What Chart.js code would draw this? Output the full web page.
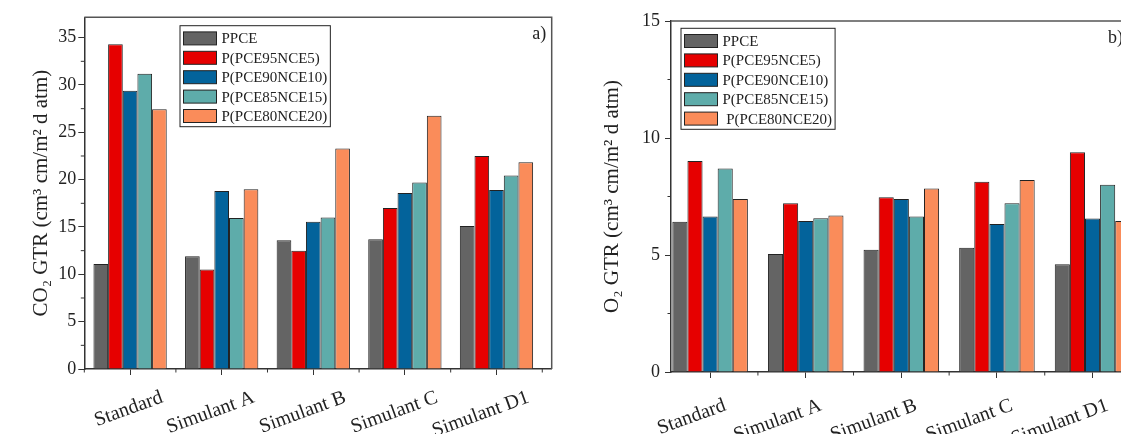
<!DOCTYPE html>
<html>
<head>
<meta charset="utf-8">
<script src="https://cdn.jsdelivr.net/npm/chart.js@4.4.1/dist/chart.umd.min.js"></script>
<style>
html, body { margin: 0; padding: 0; width: 1121px; height: 434px; overflow: hidden; background: #fff; }
#wrapA { position: absolute; left: 0; top: 0; width: 560px; height: 434px; }
#wrapB { position: absolute; left: 560px; top: 0; width: 600px; height: 434px; }
</style>
</head>
<body>
<div id="wrapA"><canvas id="co2Chart" width="560" height="434"></canvas></div>
<div id="wrapB"><canvas id="o2Chart" width="600" height="434"></canvas></div>
<script>
//categories
let categories = ["Standard", "Simulant A", "Simulant B", "Simulant C", "Simulant D1"]
let seriesNamesA = ["PPCE", "P(PCE95NCE5)", "P(PCE90NCE10)", "P(PCE85NCE15)", "P(PCE80NCE20)"]
let seriesNamesB = ["PPCE", "P(PCE95NCE5)", "P(PCE90NCE10)", "P(PCE85NCE15)", " P(PCE80NCE20)"]
let colors = ["#646464", "#e60000", "#03639b", "#5eacaa", "#fa8c5a"]

//a) CO2 GTR, one array per sample
let co2PPCE = [11.1, 11.9, 13.6, 13.7, 15.1]
let co2PCE95 = [34.3, 10.5, 12.5, 17.0, 22.5]
let co2PCE90 = [29.4, 18.8, 15.55, 18.6, 18.9]
let co2PCE85 = [31.2, 15.95, 16.0, 19.7, 20.45]
let co2PCE80 = [27.45, 19.0, 23.3, 26.75, 21.85]
let co2Ticks = [0, 5, 10, 15, 20, 25, 30, 35]

//b) O2 GTR
let o2PPCE = [6.42, 5.04, 5.22, 5.31, 4.6]
let o2PCE95 = [9.02, 7.21, 7.47, 8.13, 9.39]
let o2PCE90 = [6.65, 6.45, 7.39, 6.33, 6.56]
let o2PCE85 = [8.7, 6.57, 6.65, 7.21, 8.0]
let o2PCE80 = [7.39, 6.69, 7.84, 8.2, 6.45]
let o2Ticks = [0, 5, 10, 15]

const serif = "'Liberation Serif', 'Times New Roman', 'DejaVu Serif', serif"
const ink = "#222"

// frame, minor ticks, slanted x labels, panel letter and boxed legend (Origin look)
const originLook = {
    id: "originLook",
    afterDraw(chart, args, o) {
        const ctx = chart.ctx
        const area = chart.chartArea
        const xs = chart.scales.x
        const ys = chart.scales.y
        ctx.save()

        // top and right frame
        ctx.strokeStyle = "#555"
        ctx.lineWidth = 1.5
        ctx.beginPath()
        ctx.moveTo(area.left, area.top)
        ctx.lineTo(area.right, area.top)
        ctx.lineTo(area.right, area.bottom)
        ctx.stroke()

        // minor ticks
        ctx.strokeStyle = "#333"
        ctx.lineWidth = 1
        ctx.beginPath()
        for (let i = 1; i < ys.ticks.length; i++) {
            let py = ys.getPixelForValue((ys.ticks[i - 1].value + ys.ticks[i].value) / 2)
            ctx.moveTo(area.left - 3.5, py)
            ctx.lineTo(area.left, py)
        }
        for (let i = 0; i <= categories.length; i++) {
            let px = xs.getPixelForValue(i - 0.5)
            if (px < area.left - 1 || px > area.right) continue
            ctx.moveTo(px, area.bottom)
            ctx.lineTo(px, area.bottom + 3.5)
        }
        ctx.stroke()

        // x labels, slanted
        ctx.fillStyle = ink
        ctx.font = "20px " + serif
        ctx.textAlign = "right"
        ctx.textBaseline = "middle"
        xs.ticks.forEach((t, i) => {
            ctx.save()
            ctx.translate(xs.getPixelForTick(i) + o.labelDx, area.bottom + o.labelDy)
            ctx.rotate(-20 * Math.PI / 180)
            ctx.fillText(categories[i], 0, 0)
            ctx.restore()
        })

        // panel letter
        ctx.font = "18px " + serif
        ctx.textAlign = "left"
        ctx.textBaseline = "alphabetic"
        ctx.fillText(o.panel, area.right + o.panelDx, area.top + o.panelDy)

        // legend
        ctx.font = "15px " + serif
        ctx.textBaseline = "middle"
        const sets = chart.data.datasets
        let widest = 0
        sets.forEach(d => { widest = Math.max(widest, ctx.measureText(d.label).width) })
        const bx = area.left + o.legendX
        const by = area.top + o.legendY
        const rowH = 19.4
        const bw = 41.5 + widest + 3
        const bh = sets.length * rowH + 4
        ctx.fillStyle = "#fff"
        ctx.fillRect(bx, by, bw, bh)
        ctx.strokeStyle = ink
        ctx.lineWidth = 1
        ctx.strokeRect(bx, by, bw, bh)
        sets.forEach((d, i) => {
            let cy = by + 4 + rowH * i + rowH / 2 - 1
            ctx.fillStyle = d.backgroundColor
            ctx.fillRect(bx + 3.5, cy - 6.5, 33, 13)
            ctx.strokeStyle = ink
            ctx.strokeRect(bx + 3.5, cy - 6.5, 33, 13)
            ctx.fillStyle = ink
            ctx.fillText(d.label, bx + 41.5, cy + 1)
        })
        ctx.restore()
    }
}

function makeChart(canvasId, names, series, yTicks, yMax, title, look) {
    let datasets = series.map((values, i) => ({
        label: names[i],
        data: values,
        backgroundColor: colors[i],
        borderColor: ink,
        borderWidth: 1,
        barPercentage: 1.0,
        categoryPercentage: look.catPct
    }))
    return new Chart(document.getElementById(canvasId).getContext("2d"), {
        type: "bar",
        data: { labels: categories, datasets: datasets },
        plugins: [originLook],
        options: {
            responsive: false,
            animation: false,
            layout: { padding: { left: 0, top: look.top, right: look.right, bottom: 0 } },
            plugins: {
                legend: { display: false },
                tooltip: { enabled: false },
                originLook: look
            },
            scales: {
                x: {
                    grid: { offset: false, drawOnChartArea: false, tickLength: 6, tickColor: "#333", tickWidth: 1 },
                    border: { color: "#333", width: 1.5 },
                    ticks: { display: false },
                    afterBuildTicks: s => { s._startValue = look.xStart; s._valueRange = look.xRange },
                    afterFit: s => { s.height = 434 - look.bottom }
                },
                y: {
                    min: 0,
                    max: yMax,
                    afterBuildTicks: s => { s.ticks = yTicks.map(v => ({ value: v })) },
                    afterFit: s => { s.width = look.yWidth },
                    grid: { drawOnChartArea: false, tickLength: 6, tickColor: "#333", tickWidth: 1 },
                    border: { color: "#333", width: 1.5 },
                    ticks: { color: ink, font: { family: serif, size: 18 }, padding: look.tickPad },
                    title: {
                        display: true,
                        text: title,
                        color: ink,
                        font: { family: serif, size: 21 },
                        padding: { top: look.titlePad, bottom: 0 }
                    }
                }
            }
        }
    })
}

let chartA = makeChart("co2Chart", seriesNamesA,
    [co2PPCE, co2PCE95, co2PCE90, co2PCE85, co2PCE80], co2Ticks, 37.15,
    "CO\u2082 GTR (cm\u00b3 cm/m\u00b2 d atm)",
    { top: 17.3, right: 8.3, bottom: 369, yWidth: 84.3, tickPad: 2, titlePad: 28.4,
      xStart: -0.5, xRange: 5.103, catPct: 0.8,
      labelDx: 32, labelDy: 28, panel: "a)", panelDx: -19.5, panelDy: 22,
      legendX: 95.7, legendY: 8.4 })

let chartB = makeChart("o2Chart", seriesNamesB,
    [o2PPCE, o2PCE95, o2PCE90, o2PCE85, o2PCE80], o2Ticks, 15,
    "O\u2082 GTR (cm\u00b3 cm/m\u00b2 d atm)",
    { top: 21, right: 10, bottom: 372, yWidth: 111, tickPad: 5, titlePad: 39.4,
      xStart: -0.409, xRange: 5.01, catPct: 0.79,
      labelDx: 15, labelDy: 33, panel: "b)", panelDx: -42, panelDy: 22,
      legendX: 10, legendY: 7.3 })
</script>
</body>
</html>
